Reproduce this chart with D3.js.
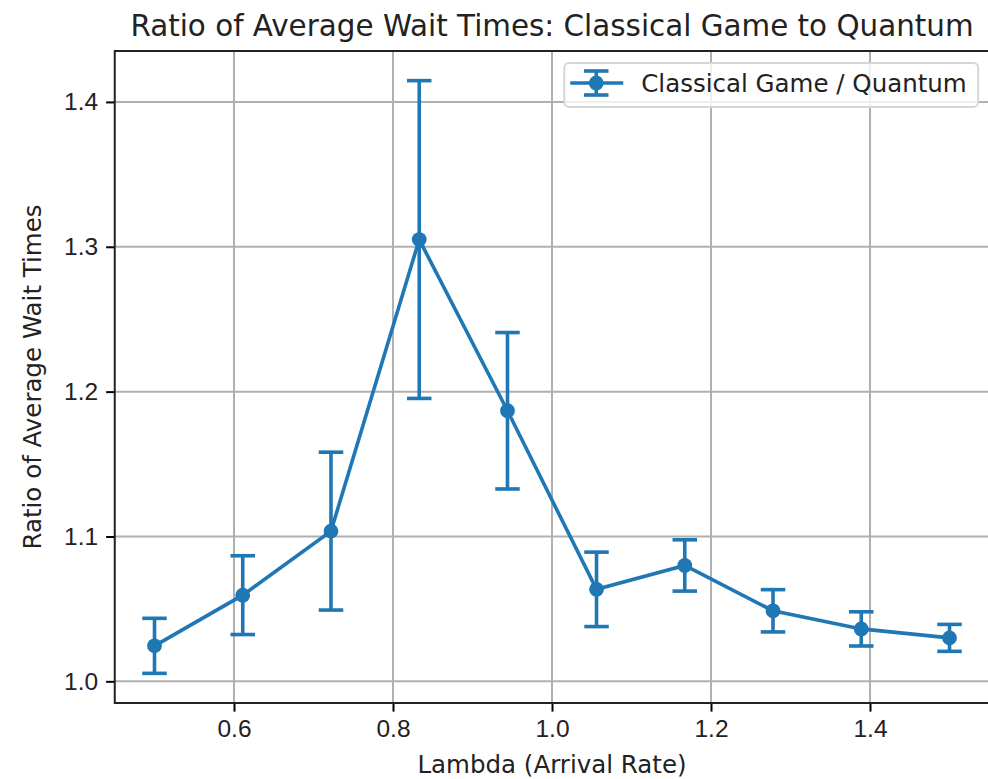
<!DOCTYPE html>
<html>
<head>
<meta charset="utf-8">
<script src="https://cdn.jsdelivr.net/npm/d3@7"></script>
<style>
  body { margin:0; background:#fff; }
  svg { font-family: "DejaVu Sans", sans-serif; display:block; }
</style>
</head>
<body>
<svg class="chart ratio" width="988" height="779"></svg>
<script>
// lambda values (arrival rate) and ratio of classical game / quantum wait times
var lambdas = [0.5, 0.611, 0.722, 0.833, 0.944, 1.056, 1.167, 1.278, 1.389, 1.5];
var ratios  = [1.0245, 1.0595, 1.1037, 1.3050, 1.1868, 1.0635, 1.0800, 1.0487, 1.0362, 1.0300];
var errors  = [0.0190, 0.0272, 0.0545, 0.1097, 0.0540, 0.0257, 0.0177, 0.0146, 0.0118, 0.0093];
var xTicks  = [0.6, 0.8, 1.0, 1.2, 1.4];
var yTicks  = [1.0, 1.1, 1.2, 1.3, 1.4];
var seriesName = "Classical Game / Quantum";

var blue = "#1f77b4";
// the picture is a matplotlib figure, about 2.45 px per point
var fs = 24.5, lw = 3.6, cap = 12.25;

var svg = d3.select("svg.chart.ratio"),
  margin = {top: 51, right: -1.25, bottom: 76, left: 114.75},
  width = +svg.attr("width") - margin.left - margin.right,
  height = +svg.attr("height") - margin.top - margin.bottom,
  g = svg.append("g").attr("transform", "translate(" + margin.left + "," + margin.top + ")");

var data = lambdas.map(function(l, i) { return {x: l, y: ratios[i], e: errors[i]}; });

// matplotlib style 5% padding around data (error bars included)
var xlo = d3.min(lambdas), xhi = d3.max(lambdas);
var ylo = d3.min(data, function(d) { return d.y - d.e; }),
    yhi = d3.max(data, function(d) { return d.y + d.e; });
var xpad = (xhi - xlo) * 0.05, ypad = (yhi - ylo) * 0.05;

var x = d3.scaleLinear().domain([xlo - xpad, xhi + xpad]).range([0, width]);
var y = d3.scaleLinear().domain([ylo - ypad, yhi + ypad]).range([height, 0]);

// grid
g.append("g").selectAll("line.gx")
  .data(xTicks).enter().append("line")
  .attr("x1", function(d) { return x(d); }).attr("x2", function(d) { return x(d); })
  .attr("y1", 0).attr("y2", height)
  .style("stroke", "#b0b0b0").style("stroke-width", "2px");
g.append("g").selectAll("line.gy")
  .data(yTicks).enter().append("line")
  .attr("y1", function(d) { return y(d); }).attr("y2", function(d) { return y(d); })
  .attr("x1", 0).attr("x2", width)
  .style("stroke", "#b0b0b0").style("stroke-width", "2px");

// axes
g.append("g")
  .attr("class", "axis")
  .attr("transform", "translate(0," + height + ")")
  .call(d3.axisBottom(x).tickValues(xTicks).tickFormat(d3.format(".1f")).tickSizeOuter(0).tickSize(8.6).tickPadding(8));
g.append("g")
  .attr("class", "axis")
  .call(d3.axisLeft(y).tickValues(yTicks).tickFormat(d3.format(".1f")).tickSizeOuter(0).tickSize(8.6).tickPadding(8));

g.selectAll(".axis path.domain").remove();
g.selectAll(".axis line").style("stroke", "#000").style("stroke-width", "2px");
g.selectAll(".axis text").style("font-size", fs + "px").style("fill", "#222");

// frame (left, top, bottom; right edge falls off the page)
g.append("rect")
  .attr("x", 0).attr("y", 0).attr("width", width).attr("height", height)
  .style("fill", "none").style("stroke", "#222").style("stroke-width", "2px");

// error bars
var bars = g.append("g").attr("class", "errorbars");
data.forEach(function(d) {
  var cx = x(d.x), t = y(d.y + d.e), b = y(d.y - d.e);
  bars.append("line").attr("x1", cx).attr("x2", cx).attr("y1", t).attr("y2", b);
  bars.append("line").attr("x1", cx - cap).attr("x2", cx + cap).attr("y1", t).attr("y2", t);
  bars.append("line").attr("x1", cx - cap).attr("x2", cx + cap).attr("y1", b).attr("y2", b);
});
bars.selectAll("line").style("stroke", blue).style("stroke-width", lw + "px");

var line = d3.line()
  .x(function(d) { return x(d.x); })
  .y(function(d) { return y(d.y); });

g.append("path")
  .datum(data)
  .attr("d", line)
  .style("fill", "none")
  .style("stroke", blue)
  .style("stroke-width", lw + "px");

g.selectAll("circle.dot")
  .data(data)
  .enter().append("circle")
  .attr("class", "dot")
  .attr("r", 7.4)
  .attr("cx", function(d) { return x(d.x); })
  .attr("cy", function(d) { return y(d.y); })
  .style("fill", blue);

// title and labels
svg.append("text")
  .attr("x", margin.left + width / 2).attr("y", 36)
  .attr("text-anchor", "middle")
  .style("font-size", "29.4px").style("fill", "#222")
  .text("Ratio of Average Wait Times: Classical Game to Quantum");

svg.append("text")
  .attr("x", margin.left + width / 2).attr("y", 773)
  .attr("text-anchor", "middle")
  .style("font-size", fs + "px").style("fill", "#222")
  .text("Lambda (Arrival Rate)");

svg.append("text")
  .attr("transform", "translate(41," + (margin.top + height / 2) + ") rotate(-90)")
  .attr("text-anchor", "middle")
  .style("font-size", fs + "px").style("fill", "#222")
  .text("Ratio of Average Wait Times");

// legend, upper right
var legW = 414, legH = 44;
var leg = g.append("g").attr("transform", "translate(" + (width - 11 - legW) + ",12)");
leg.append("rect")
  .attr("width", legW).attr("height", legH).attr("rx", 5)
  .style("fill", "rgba(255,255,255,0.8)").style("stroke", "#d6d6d6").style("stroke-width", "2px");
var hx = 32, hy = 20;
leg.append("line").attr("x1", 6).attr("x2", 59).attr("y1", hy).attr("y2", hy);
leg.append("line").attr("x1", hx).attr("x2", hx).attr("y1", hy - 12).attr("y2", hy + 12);
leg.append("line").attr("x1", hx - cap).attr("x2", hx + cap).attr("y1", hy - 12).attr("y2", hy - 12);
leg.append("line").attr("x1", hx - cap).attr("x2", hx + cap).attr("y1", hy + 12).attr("y2", hy + 12);
leg.selectAll("line").style("stroke", blue).style("stroke-width", lw + "px");
leg.append("circle").attr("cx", hx).attr("cy", hy).attr("r", 7.4).style("fill", blue);
leg.append("text")
  .attr("x", 77).attr("y", hy + 9)
  .style("font-size", fs + "px").style("fill", "#222")
  .text(seriesName);
</script>
</body>
</html>
